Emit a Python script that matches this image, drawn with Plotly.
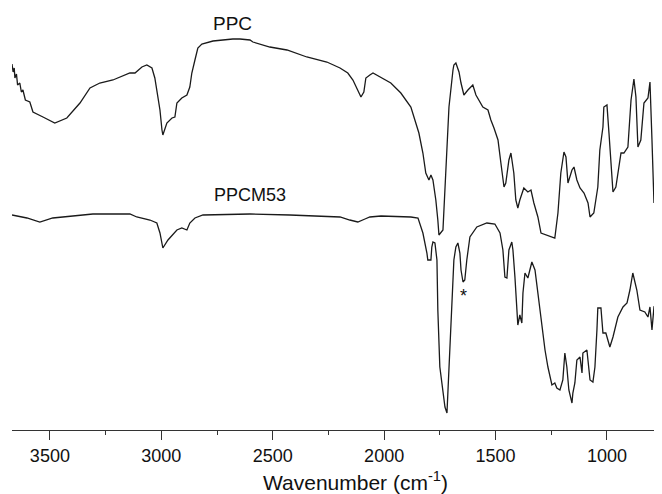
import plotly.graph_objects as go

# PPC spectrum (wavenumber, transmittance a.u.)
ppc_wn = [3670, 3665, 3660, 3657, 3650, 3645, 3635, 3628, 3621, 3610, 3590, 3576, 3531, 3478, 3424, 3365, 3320,
          3276, 3217, 3141, 3118, 3087, 3065, 3042, 3029, 3015, 3006, 2997, 2993, 2975, 2952,
          2939, 2930, 2908, 2885, 2872, 2863, 2849, 2836, 2818, 2768, 2679, 2647, 2602, 2589,
          2513, 2436, 2347, 2257, 2198, 2163, 2140, 2122, 2104, 2091, 2082, 2064, 2050, 1970,
          1925, 1880, 1866, 1844, 1826, 1813, 1799, 1790, 1781, 1768, 1759, 1754, 1736, 1723,
          1714, 1709, 1691, 1687, 1678, 1664, 1655, 1642, 1624, 1602, 1588, 1575, 1557, 1534,
          1521, 1507, 1489, 1476, 1462, 1454, 1440, 1431, 1418, 1409, 1400, 1391, 1373, 1355,
          1341, 1328, 1310, 1296, 1252, 1234, 1220, 1207, 1193, 1184, 1175, 1157, 1148, 1135,
          1121, 1103, 1085, 1076, 1059, 1041, 1032, 1018, 1014, 1000, 991, 973, 960, 937, 924,
          906, 892, 879, 870, 861, 848, 834, 816, 807, 798, 789, 780, 767, 753]
ppc_t = [366, 358, 362, 352, 356, 345, 347, 338, 340, 330, 328, 318, 313, 307, 312, 327, 342,
         347, 350, 357, 357, 363, 365, 362, 352, 333, 320, 300, 295, 307, 312,
         313, 327, 332, 335, 343, 357, 370, 382, 386, 389, 391, 391, 390, 388,
         383, 380, 373, 368, 362, 357, 350, 342, 333, 338, 352, 355, 357, 347,
         337, 323, 313, 297, 277, 257, 250, 255, 250, 230, 210, 195, 200, 263,
         297, 323, 360, 365, 367, 358, 347, 335, 340, 345, 335, 330, 323, 320,
         310, 302, 290, 267, 243, 247, 270, 277, 257, 230, 222, 230, 242, 238,
         240, 227, 213, 197, 193, 192, 217, 257, 278, 273, 247, 260, 263, 250,
         242, 237, 227, 213, 217, 243, 280, 303, 323, 325, 297, 238, 243, 277, 277,
         283, 330, 351, 333, 283, 290, 327, 332, 348, 290, 227, 263, 347, 358]

# PPCM53 spectrum
m53_wn = [3670, 3603, 3545, 3487, 3397, 3307, 3141, 3110, 3051, 3020, 3006, 2993, 2970, 2930,
          2908, 2885, 2872, 2849, 2813, 2602, 2423, 2275, 2198, 2154, 2118, 2086, 2064, 2014,
          1880, 1848, 1835, 1826, 1808, 1804, 1790, 1786, 1781, 1772, 1763, 1759, 1750, 1736,
          1727, 1718, 1714, 1709, 1696, 1687, 1678, 1669, 1660, 1655, 1646, 1638, 1629, 1624,
          1615, 1584, 1539, 1503, 1480, 1467, 1458, 1449, 1440, 1427, 1422, 1413, 1404, 1400,
          1391, 1382, 1377, 1368, 1355, 1337, 1323, 1310, 1292, 1278, 1265, 1247, 1234, 1225,
          1211, 1198, 1189, 1180, 1171, 1157, 1153, 1144, 1135, 1121, 1112, 1108, 1090, 1085,
          1076, 1063, 1054, 1045, 1041, 1027, 1018, 1005, 987, 973, 951, 928, 910, 897, 884,
          866, 852, 830, 816, 807, 798, 789, 776, 767, 753]
m53_t = [215, 212, 208, 212, 214, 216, 216, 213, 210, 207, 197, 182, 190, 200,
         202, 200, 207, 212, 215, 216, 215, 214, 213, 210, 208, 211, 213, 214,
         213, 212, 203, 197, 177, 170, 170, 183, 188, 187, 170, 120, 63, 40,
         23, 17, 37, 70, 137, 170, 183, 187, 177, 160, 148, 150, 170, 180,
         193, 203, 207, 206, 197, 180, 153, 152, 180, 188, 180, 153, 110, 105,
         115, 107, 137, 157, 152, 168, 160, 137, 103, 80, 63, 45, 47, 42,
         40, 50, 77, 63, 40, 27, 37, 47, 70, 73, 57, 77, 80, 70,
         50, 48, 63, 100, 122, 122, 97, 97, 83, 93, 113, 123, 127, 140, 157,
         140, 120, 118, 113, 123, 100, 123, 122, 93, 77]

labels = ["PPC", "PPCM53", "*"]
label_wn = [2681, 2600, 1642]
label_t = [407, 235, 134]
label_sizes = [19, 18, 18]

x_title = "Wavenumber (cm<sup>-1</sup>)"

line_color = "#1a1a1a"
font_family = "Liberation Sans, Arial, sans-serif"

fig = go.Figure()
fig.add_trace(go.Scatter(x=ppc_wn, y=ppc_t, mode="lines", line=dict(color=line_color, width=1.3),
                         showlegend=False, hoverinfo="skip"))
fig.add_trace(go.Scatter(x=m53_wn, y=m53_t, mode="lines", line=dict(color=line_color, width=1.3),
                         showlegend=False, hoverinfo="skip"))

for txt, xw, yt, fs in zip(labels, label_wn, label_t, label_sizes):
    fig.add_annotation(x=xw, y=yt, text=txt, showarrow=False, xref="x", yref="y",
                       font=dict(family=font_family, size=fs, color="#111111"),
                       xanchor="center", yanchor="middle")

# axis title, placed slightly right of the plot centre as in the original
fig.add_annotation(x=0.528, y=-0.121, xref="paper", yref="paper", text=x_title,
                   showarrow=False, xanchor="center", yanchor="middle",
                   font=dict(family=font_family, size=21, color="#111111"))

# the page body adds an 8px offset, so the figure is 654x486 and the plot
# area covers the visible part of the value range
fig.update_layout(
    width=654, height=486,
    margin=dict(l=4, r=0, t=0, b=64),
    paper_bgcolor="white", plot_bgcolor="white",
    font=dict(family=font_family, size=18, color="#111111"),
    xaxis=dict(
        range=[3670, 753], showgrid=False, zeroline=False,
        showline=True, linecolor="#333333", linewidth=1.2,
        ticks="outside", ticklen=9, tickwidth=1.2, tickcolor="#333333",
        tick0=1000, dtick=500,
        minor=dict(ticks="outside", ticklen=4, tickwidth=1.2, tickcolor="#333333", dtick=250, tick0=1000),
        tickfont=dict(family=font_family, size=18, color="#111111"),
    ),
    yaxis=dict(visible=False, range=[0, 422], showgrid=False, zeroline=False),
)

fig.write_html("out.html")
